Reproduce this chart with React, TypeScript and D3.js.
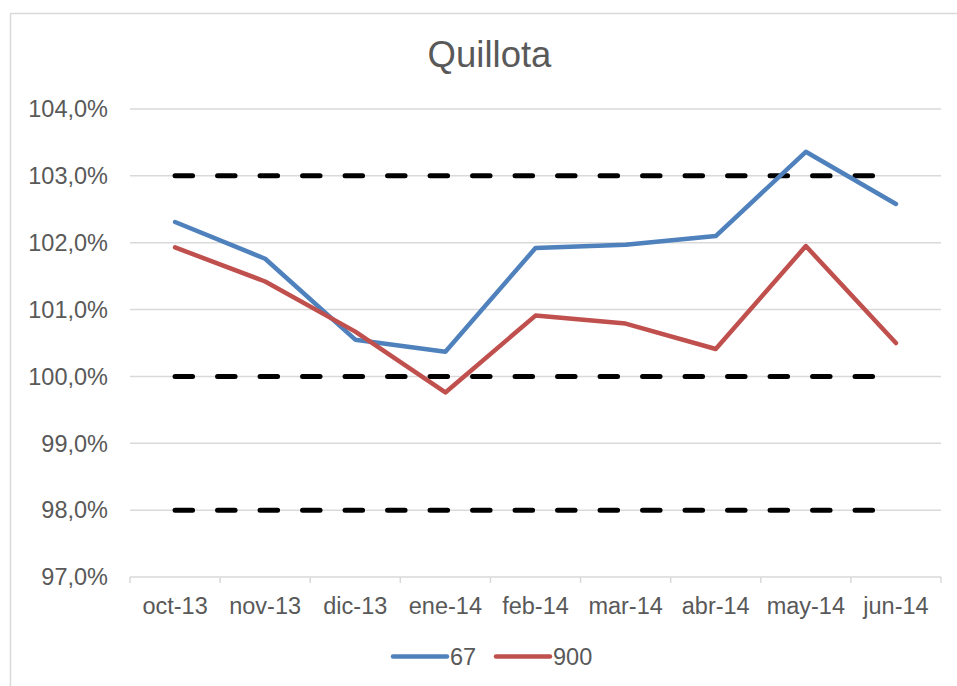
import React, { useEffect, useRef } from 'react';
import * as d3 from 'd3';

const months = ['oct-13', 'nov-13', 'dic-13', 'ene-14', 'feb-14', 'mar-14', 'abr-14', 'may-14', 'jun-14'];
const series67 = [102.31, 101.76, 100.55, 100.37, 101.92, 101.97, 102.1, 103.36, 102.58];
const series900 = [101.93, 101.42, 100.67, 99.76, 100.91, 100.79, 100.41, 101.95, 100.5];
const limitLevels = [103, 100, 98];
const yTicks = [97, 98, 99, 100, 101, 102, 103, 104];

const App = () => {
  const svgRef = useRef<SVGSVGElement | null>(null);
  const width = 957;
  const height = 686;

  useEffect(() => {
    const svg = d3.select(svgRef.current);
    svg.selectAll('*').remove();

    const font = 'Liberation Sans, Arial, sans-serif';
    const textColor = '#595959';

    // chart frame (only left/top visible in crop)
    svg.append('rect')
      .attr('x', 10.5)
      .attr('y', 13.5)
      .attr('width', 1000)
      .attr('height', 1000)
      .attr('fill', 'white')
      .attr('stroke', '#d9d9d9')
      .attr('stroke-width', 1.5);

    const margin = { top: 109, right: 16, bottom: 109, left: 130 };
    const innerW = 941 - margin.left;
    const innerH = 577 - margin.top;

    const g = svg.append('g').attr('transform', `translate(${margin.left},${margin.top})`);

    const x = d3.scaleBand().domain(months).range([0, innerW]).paddingInner(0).paddingOuter(0);
    const y = d3.scaleLinear().domain([97, 104]).range([innerH, 0]);
    const cx = (m: string) => (x(m) ?? 0) + x.bandwidth() / 2;

    // gridlines
    g.selectAll('.grid')
      .data(yTicks.filter(t => t !== 97))
      .enter()
      .append('line')
      .attr('x1', 0)
      .attr('x2', innerW)
      .attr('y1', d => y(d))
      .attr('y2', d => y(d))
      .attr('stroke', '#d9d9d9')
      .attr('stroke-width', 1.5);

    // y labels
    g.selectAll('.ylab')
      .data(yTicks)
      .enter()
      .append('text')
      .attr('x', -22)
      .attr('y', d => y(d))
      .attr('dy', '0.35em')
      .attr('text-anchor', 'end')
      .attr('fill', textColor)
      .style('font-family', font)
      .style('font-size', '23.5px')
      .text(d => d.toFixed(1).replace('.', ',') + '%');

    // x axis
    g.append('line')
      .attr('x1', 0)
      .attr('x2', innerW)
      .attr('y1', innerH)
      .attr('y2', innerH)
      .attr('stroke', '#d9d9d9')
      .attr('stroke-width', 1.5);

    const tickPos = months.map(m => x(m) ?? 0).concat([innerW]);
    g.selectAll('.xtick')
      .data(tickPos)
      .enter()
      .append('line')
      .attr('x1', d => d)
      .attr('x2', d => d)
      .attr('y1', innerH)
      .attr('y2', innerH + 6)
      .attr('stroke', '#d9d9d9')
      .attr('stroke-width', 1.5);

    g.selectAll('.xlab')
      .data(months)
      .enter()
      .append('text')
      .attr('x', d => cx(d))
      .attr('y', innerH + 37)
      .attr('text-anchor', 'middle')
      .attr('fill', textColor)
      .style('font-family', font)
      .style('font-size', '23.5px')
      .text(d => d);

    // dashed limit lines
    const flatLine = d3.line<string>().x(d => cx(d));
    limitLevels.forEach(level => {
      g.append('path')
        .attr('d', flatLine.y(() => y(level))(months))
        .attr('fill', 'none')
        .attr('stroke', '#000')
        .attr('stroke-width', 5)
        .attr('stroke-linecap', 'round')
        .attr('stroke-dasharray', '17.5 25');
    });

    const line = d3.line<number>()
      .x((_, i) => cx(months[i]))
      .y(d => y(d));

    const drawSeries = (vals: number[], color: string) => {
      g.append('path')
        .datum(vals)
        .attr('d', line)
        .attr('fill', 'none')
        .attr('stroke', color)
        .attr('stroke-width', 4.5)
        .attr('stroke-linecap', 'round')
        .attr('stroke-linejoin', 'round');
    };
    drawSeries(series67, '#4f81bd');
    drawSeries(series900, '#c0504d');

    // title
    svg.append('text')
      .attr('x', 489.5)
      .attr('y', 67)
      .attr('text-anchor', 'middle')
      .attr('fill', textColor)
      .style('font-family', font)
      .style('font-size', '36.5px')
      .text('Quillota');

    // legend
    const legendItems = [
      { name: '67', color: '#4f81bd', x: 393 },
      { name: '900', color: '#c0504d', x: 496 },
    ];
    legendItems.forEach(item => {
      svg.append('line')
        .attr('x1', item.x)
        .attr('x2', item.x + 54)
        .attr('y1', 656.5)
        .attr('y2', 656.5)
        .attr('stroke', item.color)
        .attr('stroke-width', 4.5)
        .attr('stroke-linecap', 'round');
      svg.append('text')
        .attr('x', item.x + 57)
        .attr('y', 656.5)
        .attr('dy', '0.35em')
        .attr('fill', textColor)
        .style('font-family', font)
        .style('font-size', '23.5px')
        .text(item.name);
    });
  }, []);

  return (
    <svg
      ref={svgRef}
      width={width}
      height={height}
      style={{ position: 'absolute', left: 0, top: 0, background: 'white' }}
    />
  );
};

export default App;
